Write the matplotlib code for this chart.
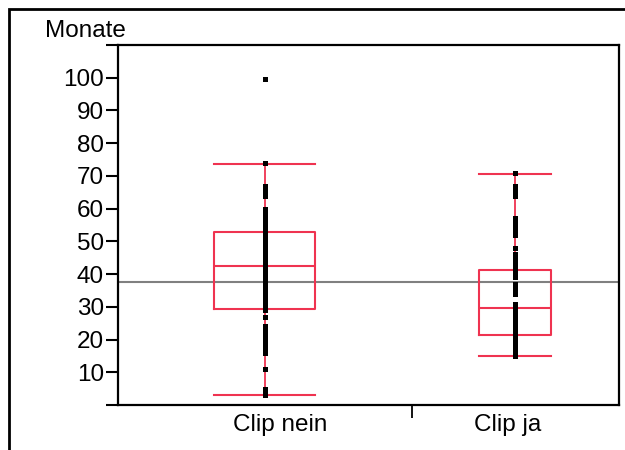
import numpy as np
import matplotlib.pyplot as plt
import matplotlib.transforms as mtransforms
from matplotlib.patches import Rectangle

plt.rcParams['font.family'] = ['Liberation Sans', 'DejaVu Sans']

# Überlebenszeit in Monaten je Gruppe
categories = ["Clip nein", "Clip ja"]
monate_nein = [3, 4, 5, 11, 16, 17, 18, 19, 20, 21, 22, 23, 24, 27,
               29, 30, 31, 32, 33, 34, 35, 35, 36, 37, 38, 38, 39, 40, 40, 41,
               42, 42, 43, 44, 45, 45, 46, 47, 48, 48, 49, 50, 51, 52, 53,
               54, 55, 56, 57, 58, 59, 60, 64, 65, 66, 67, 74, 99.5]
monate_ja = [15, 16, 17, 18, 19, 20, 21, 22, 23, 24, 25, 26, 27, 28, 29,
             30, 31, 34, 35, 36, 37, 39, 40, 41, 42, 43, 44, 45, 46, 48,
             52, 53, 54, 55, 56, 57, 64, 65, 66, 67, 71]

# Quartile und Whisker (unten, Q1, Median, Q3, oben)
whisker_lo = [3, 15]
q1 = [29.2, 21.4]
median = [42.5, 29.7]
q3 = [52.9, 41.4]
whisker_hi = [73.6, 70.5]
gesamt_mittel = 37.7

yticks = [10, 20, 30, 40, 50, 60, 70, 80, 90, 100]

red = "#ef3350"

fig = plt.figure(figsize=(6.25, 4.5), dpi=100)
ax = fig.add_axes([118 / 625, 1 - 405 / 450, 501 / 625, 360 / 450])

# Breite jeder Gruppe proportional zur Fallzahl
groups = [monate_nein, monate_ja]
n = np.array([len(g) for g in groups], dtype=float)
edges = np.concatenate([[0], np.cumsum(n / n.sum())])
centers = (edges[:-1] + edges[1:]) / 2
widths = (edges[1:] - edges[:-1]) * 0.345

stats = []
for i in range(len(groups)):
    stats.append(dict(whislo=whisker_lo[i], q1=q1[i], med=median[i],
                      q3=q3[i], whishi=whisker_hi[i], fliers=[]))

ax.bxp(stats, positions=centers, widths=widths, showfliers=False,
       boxprops=dict(color=red, linewidth=1.5),
       medianprops=dict(color=red, linewidth=1.5),
       whiskerprops=dict(color=red, linewidth=1.3),
       capprops=dict(color=red, linewidth=1.5),
       capwidths=widths, manage_ticks=False)

ax.axhline(gesamt_mittel, color="#808080", linewidth=1.5, zorder=1)

for i, g in enumerate(groups):
    ax.plot(np.full(len(g), centers[i]), g, linestyle="none", marker="s",
            markersize=3.6, markeredgewidth=0, color="black", zorder=3)

ax.set_xlim(0, 1)
ax.set_ylim(0, 110)

ax.set_yticks([0] + yticks + [110])
ax.set_yticklabels([""] + [str(t) for t in yticks] + [""])
ax.tick_params(axis="y", length=9, width=1.5, labelsize=17.5, pad=1)

ax.set_xticks(edges[1:-1])
ax.set_xticklabels([])
ax.tick_params(axis="x", length=9, width=1.3)

# Gruppenbeschriftung, leicht versetzt zur Gruppenmitte
label_shift = [15, -8]
for c, lab, dx in zip(centers, categories, label_shift):
    off = mtransforms.offset_copy(ax.get_xaxis_transform(), fig=fig,
                                  x=dx * 0.72, units="points")
    ax.text(c, -0.055, lab, transform=off,
            ha="center", va="center", fontsize=17.5)

for s in ax.spines.values():
    s.set_linewidth(1.6)

fig.text(45 / 625, 1 - 31 / 450, "Monate", fontsize=17.5, va="center")

# äußerer Rahmen
fig.add_artist(Rectangle((9 / 625, -0.5), 2, 1.5 - 9 / 450,
                         transform=fig.transFigure, fill=False,
                         edgecolor="black", linewidth=2))

fig.savefig("out.png", dpi=100)
